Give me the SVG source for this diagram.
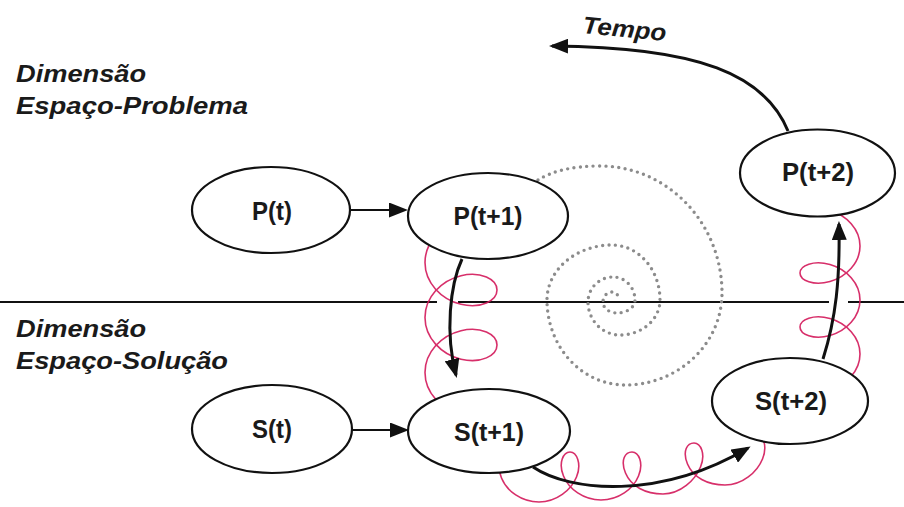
<svg xmlns="http://www.w3.org/2000/svg" width="904" height="507" viewBox="0 0 904 507">
  <defs>
    <style>
      .node { fill: #fff; stroke: #111; stroke-width: 2.2; }
      .nlabel { font-family: "Liberation Sans", Arial, sans-serif; font-weight: bold; font-size: 25px; fill: #1a1a1a; text-anchor: middle; }
      .side { font-family: "Liberation Sans", Arial, sans-serif; font-weight: bold; font-style: italic; font-size: 24px; fill: #1a1a1a; }
      .flow { fill: none; stroke: #111; stroke-width: 2; marker-end: url(#head); }
      .bend { fill: none; stroke: #111; stroke-width: 3; marker-end: url(#head); }
      .coil { fill: none; stroke: #d3185a; stroke-width: 1.6; stroke-opacity: 0.9; }
      .spiral { fill: none; stroke: #8c8c8c; stroke-width: 3.4; stroke-linecap: round; stroke-dasharray: 0 6.4; }
    </style>
    <marker id="head" viewBox="0 0 19 15" refX="16" refY="7.5" markerWidth="19" markerHeight="15" markerUnits="userSpaceOnUse" orient="auto">
      <path d="M0,0 L19,7.5 L0,15 Z" fill="#111"/>
    </marker>
  </defs>

  <rect width="904" height="507" fill="#fff"/>

  <!-- dimension labels -->
  <g id="labels">
    <text class="side" x="16" y="82" textLength="130" lengthAdjust="spacingAndGlyphs">Dimensão</text>
    <text class="side" x="16" y="114" textLength="232" lengthAdjust="spacingAndGlyphs">Espaço-Problema</text>
    <text class="side" x="16" y="337" textLength="130" lengthAdjust="spacingAndGlyphs">Dimensão</text>
    <text class="side" x="16" y="369" textLength="212" lengthAdjust="spacingAndGlyphs">Espaço-Solução</text>
    <text class="side" x="582" y="33" font-size="23" textLength="84" lengthAdjust="spacingAndGlyphs" transform="rotate(5.5 582 33)">Tempo</text>
  </g>

  <!-- boundary between problem space and solution space -->
  <path id="divider" d="M0,302 H437 M458,302 H829 M848,302 H904" stroke="#111" stroke-width="2.2" fill="none"/>

  <!-- dotted inward spiral -->
  <path id="spiral" class="spiral" d="M538,180 Q560,166 600,166 A122,127 0 0 1 722,293 A97,92 0 0 1 625,385 A78,85 0 0 1 547,300 A65,55 0 0 1 612,245 A48,55 0 0 1 660,300 A40,35 0 0 1 620,335 A32,33 0 0 1 588,302 A25,25 0 0 1 613,277 A22,23 0 0 1 635,300 A18,13 0 0 1 617,313 A14,11 0 0 1 603,302 A9,10 0 0 1 612,292 A7,8 0 0 1 619,300"/>

  <!-- helical coils wound round the transitions -->
  <g id="coils">
    <path class="coil" d="M461,220.8 C441.2,225.6 425,242.3 425,262.5 C425,282.7 441.2,299.5 461,304.3 C480.8,309.1 497,300.6 497,290 C497,279.4 480.8,270.9 461,275.7 C441.2,280.5 425,297.3 425,317.5 C425,337.7 441.2,354.4 461,359.2 C480.8,364 497,355.6 497,345 C497,334.4 480.8,325.9 461,330.7 C441.2,335.5 425,352.3 425,372.5 C425,392.7 441.2,409.4 461,414.2"/>
    <path class="coil" d="M508,454 C501.3,454 496.1,464.8 501.5,478 C506.9,491.2 521.5,502 539,502 C556.5,502 571.1,490.2 576.5,477 C581.9,463.8 576.7,452 570,452 C563.3,452 558.1,462.8 563.5,476 C568.9,489.2 583.5,500 601,500 C618.5,500 633.1,489.2 638.5,476 C643.9,462.8 638.7,452 632,452 C625.3,452 620.1,459.8 625.5,473 C630.9,486.2 645.5,494 663,494 C680.5,494 695.1,480.2 700.5,467 C705.9,453.8 700.7,443 694,443 C687.3,443 682.1,450.8 687.5,464 C692.9,477.2 707.5,485 725,485 C742.5,485 757.1,472.2 762.5,459 C767.9,445.8 762.7,433 756,433"/>
    <path class="coil" d="M830,389.5 C846.5,384.8 860,370.8 860,354 C860,337.2 846.5,323.2 830,318.5 C813.5,313.8 800,319.6 800,327 C800,334.4 813.5,340.2 830,335.5 C846.5,330.8 860,316.8 860,300 C860,283.2 846.5,269.2 830,264.5 C813.5,259.8 800,265.6 800,273 C800,280.4 813.5,286.2 830,281.5 C846.5,276.8 860,262.8 860,246 C860,229.2 846.5,215.2 830,210.5"/>
  </g>

  <!-- connectors -->
  <g id="connectors">
    <path class="flow" d="M350,210 H405"/>
    <path class="flow" d="M352,430 H406"/>
    <path class="bend" d="M462,259 C450,285 445,333 456,375"/>
    <path class="bend" d="M533,467 C570,492 660,500 748,448"/>
    <path class="bend" d="M823,359 C836,318 840,280 839,224"/>
    <path class="bend" d="M788,131 C765,75 700,47 552,46"/>
  </g>

  <!-- nodes -->
  <g id="node-p-t">
    <ellipse class="node" cx="271" cy="210" rx="79" ry="43"/>
    <text class="nlabel" x="272" y="220" textLength="40" lengthAdjust="spacingAndGlyphs">P(t)</text>
  </g>
  <g id="node-p-t1">
    <ellipse class="node" cx="488" cy="216" rx="80" ry="43"/>
    <text class="nlabel" x="488" y="225" textLength="69" lengthAdjust="spacingAndGlyphs">P(t+1)</text>
  </g>
  <g id="node-p-t2">
    <ellipse class="node" cx="817.5" cy="173" rx="77.5" ry="43.5"/>
    <text class="nlabel" x="818" y="181" textLength="72" lengthAdjust="spacingAndGlyphs">P(t+2)</text>
  </g>
  <g id="node-s-t">
    <ellipse class="node" cx="272" cy="429" rx="80" ry="44"/>
    <text class="nlabel" x="272" y="438" textLength="40" lengthAdjust="spacingAndGlyphs">S(t)</text>
  </g>
  <g id="node-s-t1">
    <ellipse class="node" cx="489" cy="431" rx="81" ry="42"/>
    <text class="nlabel" x="489" y="441" textLength="70" lengthAdjust="spacingAndGlyphs">S(t+1)</text>
  </g>
  <g id="node-s-t2">
    <ellipse class="node" cx="790" cy="401" rx="78" ry="43"/>
    <text class="nlabel" x="791" y="410" textLength="72" lengthAdjust="spacingAndGlyphs">S(t+2)</text>
  </g>
</svg>
